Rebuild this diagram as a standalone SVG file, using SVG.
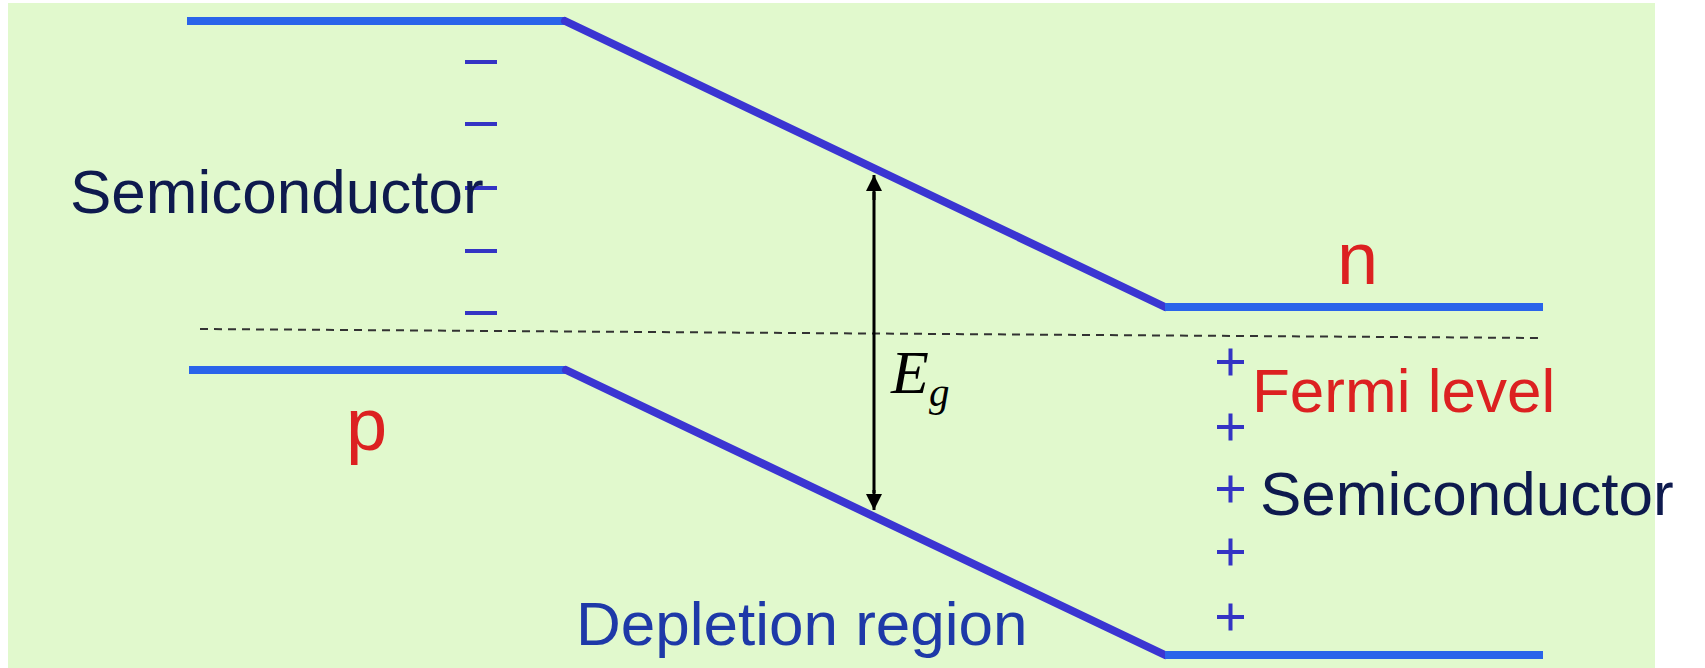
<svg xmlns="http://www.w3.org/2000/svg" width="1705" height="668" viewBox="0 0 1705 668">
<defs>
<style>
.flat{stroke:#2a64ea;stroke-width:8;fill:none}
.slope{stroke:#3b35d2;stroke-width:8;fill:none;stroke-linecap:round}
.minus,.plus{stroke:#3434c4;stroke-width:4;fill:none}
.lbl{font-family:"Liberation Sans",Arial,sans-serif;font-size:62px}
.navy{fill:#0e1a4e}
.red{fill:#dc2121}
.blue{fill:#1e39a8}
.big{font-size:74px}
</style>
<marker id="ah" viewBox="0 0 16 18" refX="16" refY="9" markerWidth="17" markerHeight="18" markerUnits="userSpaceOnUse" orient="auto">
<path d="M0,1 L16,9 L0,17 Z" fill="#000"/>
</marker>
</defs>
<rect x="8" y="3" width="1647" height="665" fill="#e1f9cd"/>
<g id="connectors">
<line x1="200" y1="329" x2="1540" y2="338" stroke="#333" stroke-width="2" stroke-dasharray="8,6"/>
<line x1="874" y1="192" x2="874" y2="493" stroke="#000" stroke-width="3"/>
<line x1="874" y1="200" x2="874" y2="175" stroke="#000" stroke-width="3" marker-end="url(#ah)"/>
<line x1="874" y1="490" x2="874" y2="510" stroke="#000" stroke-width="3" marker-end="url(#ah)"/>
</g>
<g id="conduction-band">
<line class="flat" x1="187" y1="21" x2="565" y2="21"/>
<line class="slope" x1="565" y1="21" x2="1165" y2="307"/>
<line class="flat" x1="1165" y1="307" x2="1543" y2="307"/>
</g>
<g id="valence-band">
<line class="flat" x1="189" y1="370" x2="566" y2="370"/>
<line class="slope" x1="566" y1="370" x2="1165" y2="655"/>
<line class="flat" x1="1165" y1="655" x2="1543" y2="655"/>
</g>
<g id="minus-charges">
<line class="minus" x1="465" y1="62" x2="497" y2="62"/>
<line class="minus" x1="465" y1="124" x2="497" y2="124"/>
<line class="minus" x1="465" y1="188" x2="497" y2="188"/>
<line class="minus" x1="465" y1="251" x2="497" y2="251"/>
<line class="minus" x1="465" y1="313" x2="497" y2="313"/>
</g>
<g id="plus-charges">
<path class="plus" d="M1217,362h27M1230.5,348.5v27"/>
<path class="plus" d="M1217,427h27M1230.5,413.5v27"/>
<path class="plus" d="M1217,489h27M1230.5,475.5v27"/>
<path class="plus" d="M1217,552h27M1230.5,538.5v27"/>
<path class="plus" d="M1217,617h27M1230.5,603.5v27"/>
</g>
<g id="label-semiconductor-left"><text class="lbl navy" x="70" y="213">Semiconductor</text></g>
<g id="label-p"><text class="lbl red big" x="346" y="450">p</text></g>
<g id="label-n"><text class="lbl red big" x="1337" y="284">n</text></g>
<g id="label-eg"><text x="891" y="393" font-family="'Liberation Serif','Times New Roman',serif" font-style="italic" font-size="62" fill="#000">E<tspan font-size="41" dy="13">g</tspan></text></g>
<g id="label-fermi"><text class="lbl red" x="1252" y="412">Fermi level</text></g>
<g id="label-semiconductor-right"><text class="lbl navy" x="1260" y="515">Semiconductor</text></g>
<g id="label-depletion"><text class="lbl blue" x="576" y="645">Depletion region</text></g>
</svg>
